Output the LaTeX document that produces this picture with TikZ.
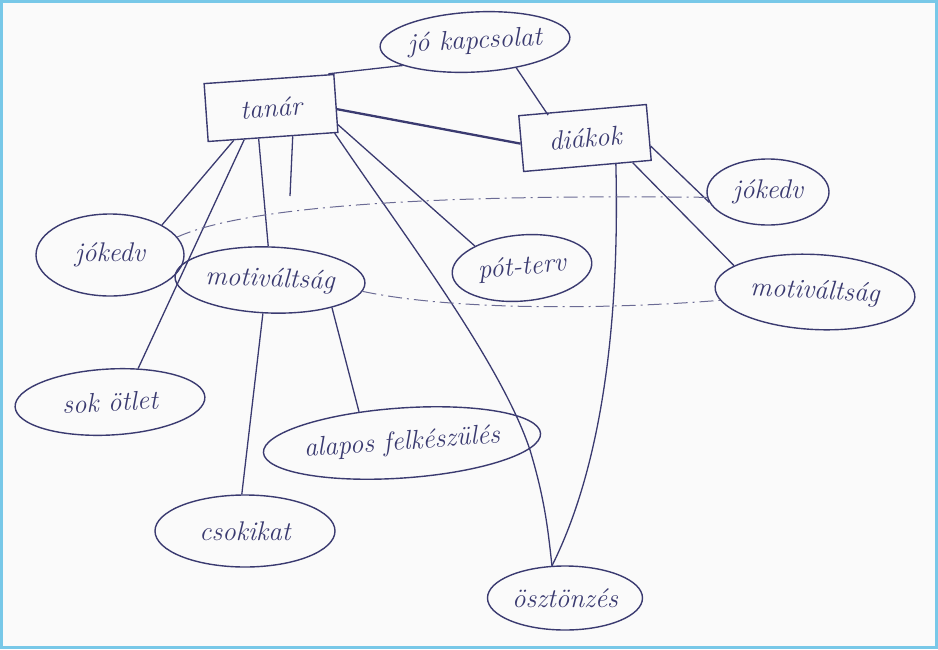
\documentclass[tikz,border=0pt]{standalone}
\usetikzlibrary{shapes.geometric,calc}
\definecolor{ink}{RGB}{58,58,112}
\definecolor{paper}{RGB}{250,250,250}
\definecolor{frame}{RGB}{120,200,232}
\begin{document}
\begin{tikzpicture}[x=1pt,y=-1pt,
  every node/.style={text=ink, font=\fontsize{27}{30}\selectfont\itshape},
  bubble/.style={ellipse, draw=ink, line width=1.4pt, inner sep=0pt},
  card/.style={rectangle, draw=ink, line width=1.4pt, inner sep=0pt},
  link/.style={draw=ink, line width=1.3pt},
  dashlink/.style={draw=ink!75, line width=1pt, dash pattern=on 14pt off 5pt on 2pt off 5pt}]
% sheet and frame
\fill[paper] (0,0) rectangle (938,649);
\draw[frame, line width=3pt] (1.5,1.5) rectangle (936.5,647.5);
\useasboundingbox (0,0) rectangle (938,649);

% concepts
\node[bubble, minimum width=190, minimum height=60, rotate=3] (jok) at (475,42) {jó kapcsolat};
\node[card, minimum width=130, minimum height=58, rotate=4] (tanar) at (271,108) {tanár};
\node[card, minimum width=128, minimum height=56, rotate=5] (diakok) at (585,138) {diákok};
\node[bubble, minimum width=148, minimum height=82] (jokL) at (110,255) {jókedv};
\node[bubble, minimum width=190, minimum height=66, rotate=-2] (motL) at (270,280) {motiváltság};
\node[bubble, minimum width=140, minimum height=66, rotate=5] (pot) at (522,268) {pót-terv};
\node[bubble, minimum width=122, minimum height=66] (jokR) at (768,192) {jókedv};
\node[bubble, minimum width=200, minimum height=75, rotate=-3] (motR) at (815,292) {motiváltság};
\node[bubble, minimum width=190, minimum height=66, rotate=3] (sok) at (110,402) {sok ötlet};
\node[bubble, minimum width=265, minimum height=70, rotate=4] (alap) at (402,443) {alapos felkészülés};
\node[bubble, minimum width=180, minimum height=72] (csok) at (245,531) {csokikat};
\node[bubble, minimum width=155, minimum height=64] (oszt) at (565,598) {ösztönzés};

% free end of the short stroke under the teacher box
\coordinate (stub) at (290,196);

% links
\draw[link] (jok.195) -- ([xshift=-6]tanar.north east);
\draw[link] (jok.-35) -- ([xshift=30]diakok.north west);
\draw[link, line width=2.3pt] (tanar.-5) -- (diakok.west);
\draw[link] ($(tanar.south west)!0.2!(tanar.south east)$) -- (jokL.30);
\draw[link] ($(tanar.south west)!0.28!(tanar.south east)$) -- (sok.47);
\draw[link] ($(tanar.south west)!0.39!(tanar.south east)$) -- (motL.95);
\draw[link] ($(tanar.south west)!0.65!(tanar.south east)$) -- (stub);
\draw[link] (tanar.-18) -- (pot.150);
\draw[link] ([xshift=-4]tanar.south east) .. controls (400,230) and (500,360) .. (530,450)
  .. controls (545,500) and (548,530) .. (oszt.112);
\draw[link] (diakok.-12) -- (jokR.190);
\draw[link] ($(diakok.south west)!0.85!(diakok.south east)$) -- (motR.165);
\draw[link] ($(diakok.south west)!0.72!(diakok.south east)$) .. controls (620,330) and (600,470) .. (oszt.112);
\draw[link] (motL.-22) -- (alap.140);
\draw[link] (motL.-100) -- (csok.95);

% dash-dot relations
\draw[dashlink] (jokL.15) .. controls (260,200) and (500,195) .. (jokR.185);
\draw[dashlink] (motL.-5) .. controls (450,310) and (600,310) .. (motR.188);
\end{tikzpicture}
\end{document}
